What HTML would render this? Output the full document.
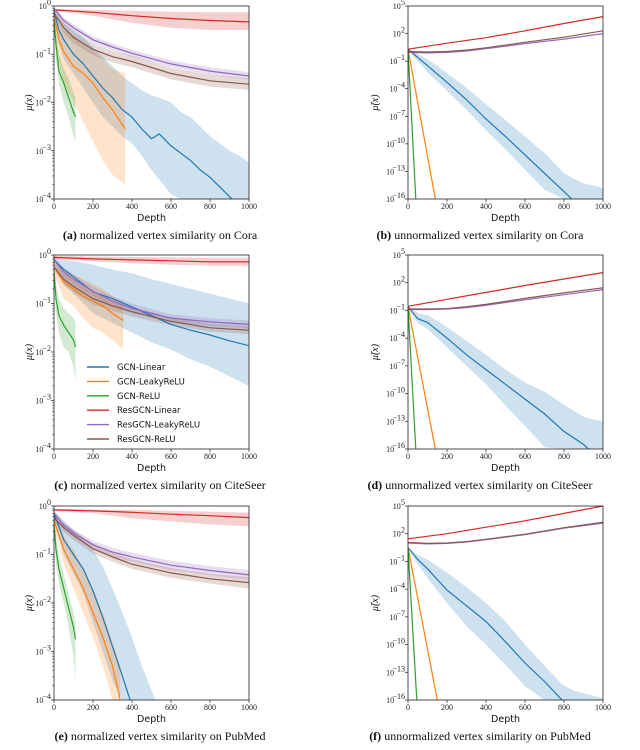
<!DOCTYPE html>
<html><head><meta charset="utf-8">
<style>
html,body{margin:0;padding:0;background:#fff;overflow:hidden;width:640px;height:750px;}
svg{display:block;}
.tick{font-family:"Liberation Serif",serif;font-size:8px;fill:#222;}
.axlab{font-family:"DejaVu Sans","Liberation Sans",sans-serif;font-size:9.5px;fill:#111;}
.ylab{font-family:"Liberation Serif",serif;font-size:10px;font-style:italic;fill:#111;}
.cap{font-family:"Liberation Serif",serif;font-size:12px;fill:#111;}
.leg{font-family:"DejaVu Sans","Liberation Sans",sans-serif;font-size:8.5px;fill:#111;}
</style></head>
<body>
<svg id="fig" width="640" height="750" viewBox="0 0 640 750" xmlns="http://www.w3.org/2000/svg"></svg>
<script>
// ---- data: x = depth, y = log10 of similarity ----
const aBlueX=[0,25,50,100,150,200,250,300,350,400,450,500,540,600,650,700,750,800,850,900,950,1000];
const aBlueY=[-0.1,-0.5,-0.7,-1.0,-1.2,-1.45,-1.7,-1.9,-2.15,-2.3,-2.55,-2.75,-2.65,-2.9,-3.05,-3.2,-3.4,-3.55,-3.75,-3.95,-4.15,-4.35];
const aBlueHi=[-0.05,-0.2,-0.35,-0.5,-0.65,-0.85,-1.05,-1.25,-1.45,-1.6,-1.75,-1.85,-1.9,-2.0,-2.2,-2.3,-2.5,-2.7,-2.85,-3.0,-3.1,-3.25];
const aBlueLo=[-0.2,-0.8,-1.1,-1.4,-1.7,-2.0,-2.3,-2.5,-2.7,-2.85,-3.1,-3.4,-3.6,-3.9,-4.1,-4.5,-5,-5,-5,-5,-5,-5];
const aOrangeX=[0,25,50,100,150,200,250,300,365];
const aOrangeY=[-0.2,-0.7,-0.95,-1.25,-1.4,-1.6,-1.9,-2.15,-2.55];
const aOrangeHi=[-0.1,-0.4,-0.5,-0.6,-0.8,-0.95,-1.1,-1.3,-1.4];
const aOrangeLo=[-0.4,-1.2,-1.6,-2.0,-2.4,-2.8,-3.2,-3.5,-3.7];
const aGreenX=[0,10,25,50,75,100,110];
const aGreenY=[-0.3,-0.8,-1.35,-1.6,-1.9,-2.2,-2.3];
const aGreenHi=[-0.2,-0.5,-1.0,-1.3,-1.5,-1.8,-1.9];
const aGreenLo=[-0.5,-1.1,-1.6,-2.0,-2.3,-2.7,-2.8];
const aRedX=[0,200,400,600,800,1000];
const aRedY=[-0.08,-0.13,-0.2,-0.26,-0.3,-0.33];
const aRedHi=[-0.06,-0.08,-0.1,-0.12,-0.13,-0.13];
const aRedLo=[-0.1,-0.2,-0.35,-0.45,-0.5,-0.5];
const aResX=[0,50,100,200,300,400,600,800,1000];
const aPurpleY=[-0.05,-0.3,-0.45,-0.7,-0.85,-0.98,-1.2,-1.35,-1.45];
const aPurpleHi=[-0.02,-0.24,-0.38,-0.63,-0.78,-0.91,-1.13,-1.27,-1.37];
const aPurpleLo=[-0.08,-0.36,-0.52,-0.77,-0.92,-1.05,-1.27,-1.43,-1.53];
const aBrownY=[-0.15,-0.45,-0.65,-0.9,-1.05,-1.15,-1.4,-1.55,-1.62];
const aBrownHi=[-0.08,-0.33,-0.53,-0.78,-0.93,-1.03,-1.28,-1.43,-1.5];
const aBrownLo=[-0.22,-0.57,-0.77,-1.02,-1.17,-1.27,-1.52,-1.67,-1.74];
const bBlueX=[0,50,100,200,300,400,500,600,700,800,850,900,1000];
const bBlueY=[0.3,-0.6,-1.5,-3.3,-5.2,-7.3,-9.2,-11.2,-13.2,-15.2,-16.2,-17,-18];
const bBlueHi=[0.3,-0.2,-0.8,-2.3,-3.9,-5.7,-7.4,-9.2,-11,-13.2,-13.8,-14.3,-14.8];
const bBlueLo=[0.3,-1,-2.2,-4.2,-6.3,-8.5,-10.6,-12.8,-15,-17,-18,-18,-18];
const bOrangeX=[0,140]; const bOrangeY=[0.3,-16];
const bGreenX=[0,40]; const bGreenY=[0.3,-16];
const bRedX=[0,200,400,600,800,1000];
const bRedY=[0.3,0.95,1.55,2.3,3.1,3.85];
const bResX=[0,100,200,300,400,600,800,1000];
const bPurpleY=[-0.05,-0.1,-0.05,0.1,0.35,0.9,1.4,2.0];
const bBrownY=[0.05,0,0.05,0.2,0.45,1.05,1.6,2.3];
const cBlueX=[0,50,100,200,300,400,500,600,700,800,900,1000];
const cBlueY=[-0.1,-0.3,-0.45,-0.76,-0.9,-1.07,-1.25,-1.43,-1.55,-1.65,-1.77,-1.87];
const cBlueHi=[-0.05,-0.1,-0.12,-0.2,-0.3,-0.38,-0.5,-0.6,-0.7,-0.8,-0.9,-1.0];
const cBlueLo=[-0.2,-0.6,-0.8,-1.2,-1.4,-1.6,-1.8,-1.95,-2.15,-2.3,-2.5,-2.7];
const cOrangeX=[0,50,100,150,200,250,300,355];
const cOrangeY=[-0.25,-0.55,-0.7,-0.85,-0.95,-1.05,-1.2,-1.35];
const cOrangeHi=[-0.15,-0.3,-0.4,-0.5,-0.6,-0.7,-0.85,-0.95];
const cOrangeLo=[-0.4,-0.9,-1.05,-1.3,-1.5,-1.6,-1.75,-1.95];
const cGreenX=[0,10,25,50,75,100,110];
const cGreenY=[-0.35,-0.9,-1.25,-1.45,-1.6,-1.75,-1.9];
const cGreenHi=[-0.25,-0.6,-0.9,-1.1,-1.2,-1.3,-1.4];
const cGreenLo=[-0.5,-1.2,-1.6,-1.9,-2.0,-2.3,-2.6];
const cRedX=[0,200,400,600,800,1000];
const cRedY=[-0.05,-0.08,-0.1,-0.12,-0.14,-0.14];
const cRedHi=[-0.02,-0.03,-0.04,-0.05,-0.06,-0.06];
const cRedLo=[-0.08,-0.13,-0.17,-0.2,-0.22,-0.22];
const cResX=[0,50,100,200,300,400,600,800,1000];
const cPurpleY=[-0.1,-0.35,-0.5,-0.75,-0.95,-1.1,-1.3,-1.38,-1.43];
const cPurpleHi=[-0.05,-0.25,-0.4,-0.65,-0.85,-1.0,-1.22,-1.3,-1.35];
const cPurpleLo=[-0.15,-0.45,-0.6,-0.85,-1.05,-1.2,-1.38,-1.46,-1.51];
const cBrownY=[-0.25,-0.5,-0.65,-0.9,-1.05,-1.17,-1.37,-1.5,-1.55];
const cBrownHi=[-0.18,-0.38,-0.53,-0.78,-0.95,-1.07,-1.29,-1.42,-1.47];
const cBrownLo=[-0.32,-0.62,-0.77,-1.02,-1.15,-1.27,-1.45,-1.58,-1.63];
const dBlueX=[0,50,100,200,300,400,500,600,700,800,900,950,1000];
const dBlueY=[-0.6,-1.9,-2.3,-4,-5.8,-7.4,-9,-10.6,-12.2,-14.1,-15.5,-16.5,-17.5];
const dBlueHi=[-0.5,-1.3,-1.5,-2.8,-4.3,-5.8,-7.4,-8.8,-9.8,-11.2,-12.5,-12.8,-13.0];
const dBlueLo=[-0.7,-2.4,-3,-5,-7,-9,-11.3,-13.5,-15.8,-17,-18,-18,-18];
const dOrangeX=[0,140]; const dOrangeY=[-0.6,-16];
const dGreenX=[0,40]; const dGreenY=[-0.6,-16];
const dRedX=[0,200,400,600,800,1000];
const dRedY=[-0.55,0.2,0.95,1.7,2.4,3.1];
const dResX=[0,100,200,300,400,600,800,1000];
const dPurpleY=[-0.9,-0.9,-0.85,-0.7,-0.45,0.15,0.7,1.25];
const dBrownY=[-0.85,-0.85,-0.8,-0.6,-0.35,0.3,0.9,1.45];
const eBlueX=[0,50,100,150,200,250,300,350,390,450,520];
const eBlueY=[-0.15,-0.7,-1.0,-1.3,-1.75,-2.3,-2.9,-3.5,-4.0,-4.7,-5.5];
const eBlueHi=[-0.1,-0.3,-0.5,-0.7,-0.9,-1.25,-1.7,-2.2,-2.6,-3.3,-4.0];
const eBlueLo=[-0.25,-1.0,-1.4,-1.8,-2.4,-3.0,-3.6,-4.3,-5,-6,-7];
const eOrangeX=[0,50,100,150,200,250,300,340];
const eOrangeY=[-0.3,-0.9,-1.3,-1.7,-2.2,-2.7,-3.3,-4.0];
const eOrangeHi=[-0.2,-0.6,-0.9,-1.3,-1.7,-2.2,-2.8,-3.3];
const eOrangeLo=[-0.4,-1.2,-1.7,-2.2,-2.7,-3.3,-4,-4.6];
const eGreenX=[0,10,25,50,75,100,110];
const eGreenY=[-0.35,-0.9,-1.3,-1.7,-2.1,-2.5,-2.75];
const eGreenHi=[-0.25,-0.6,-1,-1.4,-1.8,-2.2,-2.4];
const eGreenLo=[-0.5,-1.2,-1.6,-2,-2.5,-3.1,-3.6];
const eRedX=[0,200,400,600,800,1000];
const eRedY=[-0.08,-0.1,-0.13,-0.17,-0.2,-0.24];
const eRedHi=[-0.06,-0.07,-0.08,-0.1,-0.12,-0.14];
const eRedLo=[-0.1,-0.15,-0.25,-0.32,-0.38,-0.42];
const eResX=[0,50,100,200,300,400,600,800,1000];
const ePurpleY=[-0.15,-0.4,-0.55,-0.8,-0.95,-1.05,-1.22,-1.33,-1.42];
const ePurpleHi=[-0.1,-0.33,-0.48,-0.72,-0.86,-0.96,-1.13,-1.24,-1.32];
const ePurpleLo=[-0.2,-0.48,-0.64,-0.9,-1.05,-1.15,-1.32,-1.43,-1.52];
const eBrownY=[-0.25,-0.45,-0.6,-0.88,-1.05,-1.2,-1.38,-1.5,-1.58];
const eBrownHi=[-0.18,-0.36,-0.5,-0.78,-0.95,-1.1,-1.28,-1.4,-1.47];
const eBrownLo=[-0.32,-0.55,-0.7,-0.98,-1.15,-1.3,-1.48,-1.6,-1.7];
const fBlueX=[0,50,100,200,300,400,500,600,700,790,850,1000];
const fBlueY=[0.5,-0.8,-1.8,-4.1,-5.8,-7.5,-9.7,-12,-14,-16,-17,-19];
const fBlueHi=[0.5,-0.3,-0.8,-2.2,-3.8,-5.5,-7.5,-10,-12.3,-14.3,-15,-15.8];
const fBlueLo=[0.5,-1.3,-2.8,-5.5,-8,-10,-12.2,-14.5,-16.5,-18,-18,-18];
const fOrangeX=[0,150]; const fOrangeY=[0.5,-16];
const fGreenX=[0,45]; const fGreenY=[0.5,-16];
const fRedX=[0,200,400,600,800,1000];
const fRedY=[1.45,2.0,2.7,3.4,4.2,5.0];
const fResX=[0,100,200,300,400,600,800,1000];
const fPurpleY=[1.0,0.9,0.95,1.1,1.35,1.9,2.6,3.15];
const fBrownY=[1.05,0.95,1.0,1.15,1.4,1.95,2.65,3.25];

const xTicks=[0,200,400,600,800,1000];
const leftYTicks=[0,-1,-2,-3,-4];
const rightYTicks=[5,2,-1,-4,-7,-10,-13,-16];
const legendLabels=["GCN-Linear","GCN-LeakyReLU","GCN-ReLU","ResGCN-Linear","ResGCN-LeakyReLU","ResGCN-ReLU"];
const captionLetters=["a","b","c","d","e","f"];
const captionTexts=["normalized vertex similarity on Cora","unnormalized vertex similarity on Cora","normalized vertex similarity on CiteSeer","unnormalized vertex similarity on CiteSeer","normalized vertex similarity on PubMed","unnormalized vertex similarity on PubMed"];

const COL={blue:"#1f77b4",orange:"#ff7f0e",green:"#2ca02c",red:"#d62728",purple:"#9467bd",brown:"#8c564b"};
const NS="http://www.w3.org/2000/svg";
const svg=document.getElementById('fig');
function mk(tag,attrs,parent){const e=document.createElementNS(NS,tag);for(const k in attrs)e.setAttribute(k,attrs[k]);(parent||svg).appendChild(e);return e;}

const panels=[
 {id:"a",x0:54,x1:249,y0:6,y1:199,ymax:0,ymin:-4,right:false,
  series:[["blue",aBlueX,aBlueY,aBlueHi,aBlueLo],["orange",aOrangeX,aOrangeY,aOrangeHi,aOrangeLo],["green",aGreenX,aGreenY,aGreenHi,aGreenLo],["red",aRedX,aRedY,aRedHi,aRedLo],["purple",aResX,aPurpleY,aPurpleHi,aPurpleLo],["brown",aResX,aBrownY,aBrownHi,aBrownLo]]},
 {id:"b",x0:408,x1:603,y0:6,y1:199,ymax:5,ymin:-16,right:true,
  series:[["blue",bBlueX,bBlueY,bBlueHi,bBlueLo],["orange",bOrangeX,bOrangeY,null,null],["green",bGreenX,bGreenY,null,null],["red",bRedX,bRedY,null,null],["purple",bResX,bPurpleY,null,null],["brown",bResX,bBrownY,null,null]]},
 {id:"c",x0:54,x1:249,y0:255,y1:449,ymax:0,ymin:-4,right:false,legend:true,
  series:[["blue",cBlueX,cBlueY,cBlueHi,cBlueLo],["orange",cOrangeX,cOrangeY,cOrangeHi,cOrangeLo],["green",cGreenX,cGreenY,cGreenHi,cGreenLo],["red",cRedX,cRedY,cRedHi,cRedLo],["purple",cResX,cPurpleY,cPurpleHi,cPurpleLo],["brown",cResX,cBrownY,cBrownHi,cBrownLo]]},
 {id:"d",x0:408,x1:603,y0:255,y1:449,ymax:5,ymin:-16,right:true,
  series:[["blue",dBlueX,dBlueY,dBlueHi,dBlueLo],["orange",dOrangeX,dOrangeY,null,null],["green",dGreenX,dGreenY,null,null],["red",dRedX,dRedY,null,null],["purple",dResX,dPurpleY,null,null],["brown",dResX,dBrownY,null,null]]},
 {id:"e",x0:54,x1:249,y0:506,y1:700,ymax:0,ymin:-4,right:false,
  series:[["blue",eBlueX,eBlueY,eBlueHi,eBlueLo],["orange",eOrangeX,eOrangeY,eOrangeHi,eOrangeLo],["green",eGreenX,eGreenY,eGreenHi,eGreenLo],["red",eRedX,eRedY,eRedHi,eRedLo],["purple",eResX,ePurpleY,ePurpleHi,ePurpleLo],["brown",eResX,eBrownY,eBrownHi,eBrownLo]]},
 {id:"f",x0:408,x1:603,y0:506,y1:700,ymax:5,ymin:-16,right:true,
  series:[["blue",fBlueX,fBlueY,fBlueHi,fBlueLo],["orange",fOrangeX,fOrangeY,null,null],["green",fGreenX,fGreenY,null,null],["red",fRedX,fRedY,null,null],["purple",fResX,fPurpleY,null,null],["brown",fResX,fBrownY,null,null]]}
];
const seriesNames={blue:"gcn-linear",orange:"gcn-leakyrelu",green:"gcn-relu",red:"resgcn-linear",purple:"resgcn-leakyrelu",brown:"resgcn-relu"};

panels.forEach((p,pi)=>{
  const sx=v=>p.x0+(v/1000)*(p.x1-p.x0);
  const sy=v=>p.y0+(p.ymax-v)/(p.ymax-p.ymin)*(p.y1-p.y0);
  const cl=v=>Math.max(p.ymin,Math.min(p.ymax,v));
  const g=mk('g',{});
  
  
  const cp=mk('clipPath',{id:'clip'+p.id},g);
  mk('rect',{x:p.x0,y:p.y0,width:p.x1-p.x0,height:p.y1-p.y0},cp);
  const plot=mk('g',{'clip-path':'url(#clip'+p.id+')'},g);
  p.series.forEach(s=>{
    const [c,X,Y,Hi,Lo]=s;
    if(Hi){
      let d='';
      for(let i=0;i<X.length;i++)d+=(i?'L':'M')+sx(X[i]).toFixed(1)+','+sy(cl(Hi[i])).toFixed(1);
      for(let i=X.length-1;i>=0;i--)d+='L'+sx(X[i]).toFixed(1)+','+sy(cl(Lo[i])).toFixed(1);
      const b=mk('path',{d:d+'Z',fill:COL[c],'fill-opacity':0.22,stroke:'none'},plot);
      
      
    }
  });
  p.series.forEach(s=>{
    const [c,X,Y]=s;
    let d='';
    for(let i=0;i<X.length;i++){
      if(Y[i]<p.ymin){
        if(i>0){
          const t=(Y[i-1]-p.ymin)/(Y[i-1]-Y[i]);
          const xi=X[i-1]+t*(X[i]-X[i-1]);
          d+='L'+sx(xi).toFixed(1)+','+sy(p.ymin).toFixed(1);
        }
        break;
      }
      d+=(i?'L':'M')+sx(X[i]).toFixed(1)+','+sy(Y[i]).toFixed(1);
    }
    const l=mk('path',{d:d,fill:'none',stroke:COL[c],'stroke-width':1.2},plot);
    
    
  });
  const fr=mk('rect',{x:p.x0,y:p.y0,width:p.x1-p.x0,height:p.y1-p.y0,fill:'none',stroke:'#222','stroke-width':0.8},g);
  
  
  xTicks.forEach(t=>{
    const x=sx(t);
    mk('line',{x1:x,x2:x,y1:p.y1,y2:p.y1+3,stroke:'#222','stroke-width':0.7},g);
    const tx=mk('text',{x:x,y:p.y1+10,'text-anchor':'middle',class:'tick'},g);
    tx.textContent=t;
    
    
  });
  const yt=p.right?rightYTicks:leftYTicks;
  yt.forEach(t=>{
    const y=sy(t);
    mk('line',{x1:p.x0-3,x2:p.x0,y1:y,y2:y,stroke:'#222','stroke-width':0.7},g);
    const tx=mk('text',{x:p.x0-4-(String(t).length*3.3),y:y+3,'text-anchor':'end',class:'tick'},g);
    tx.textContent='10';
    
    
    const sup=mk('text',{x:p.x0-3,y:y-1,'text-anchor':'end',class:'tick','font-size':'5.5px'},g);
    sup.textContent=String(t).replace('-','\u2212');
    
    
  });
  if(!p.right){
    for(let dcd=p.ymax;dcd>p.ymin;dcd--)for(let m=2;m<10;m++){
      const y=sy(dcd-1+Math.log10(m));
      mk('line',{x1:p.x0-1.8,x2:p.x0,y1:y,y2:y,stroke:'#222','stroke-width':0.5},g);
    }
  }
  const xl=mk('text',{x:(p.x0+p.x1)/2,y:p.y1+22,'text-anchor':'middle',class:'axlab'},g);
  xl.textContent='Depth';
  
  
  const ycx=p.right?p.x0-30:p.x0-22, ycy=(p.y0+p.y1)/2;
  const yl=mk('text',{x:ycx,y:ycy,'text-anchor':'middle',class:'ylab',transform:'rotate(-90 '+ycx+' '+ycy+')'},g);
  yl.textContent=p.right?'\u03BC\u0303(x)':'\u03BC(x)';
  
  
  const cx=p.right?480:160, cy=p.y1+40;
  const cap=mk('text',{x:cx,y:cy,'text-anchor':'middle',class:'cap'},g);
  
  
  const b=mk('tspan',{'font-weight':'bold'},cap); b.textContent='('+captionLetters[pi]+') ';
  const r=mk('tspan',{},cap); r.textContent=captionTexts[pi];
  if(p.legend){
    const lg=mk('g',{},g);
    
    
    const cols=["blue","orange","green","red","purple","brown"];
    legendLabels.forEach((lab,i)=>{
      const y=367+i*14.4;
      const e=mk('g',{},lg);
      
      
      mk('line',{x1:87,x2:109,y1:y,y2:y,stroke:COL[cols[i]],'stroke-width':1.4},e);
      const t=mk('text',{x:117,y:y+3,class:'leg'},e);
      t.textContent=lab;
    });
  }
});
</script>
</body></html>
